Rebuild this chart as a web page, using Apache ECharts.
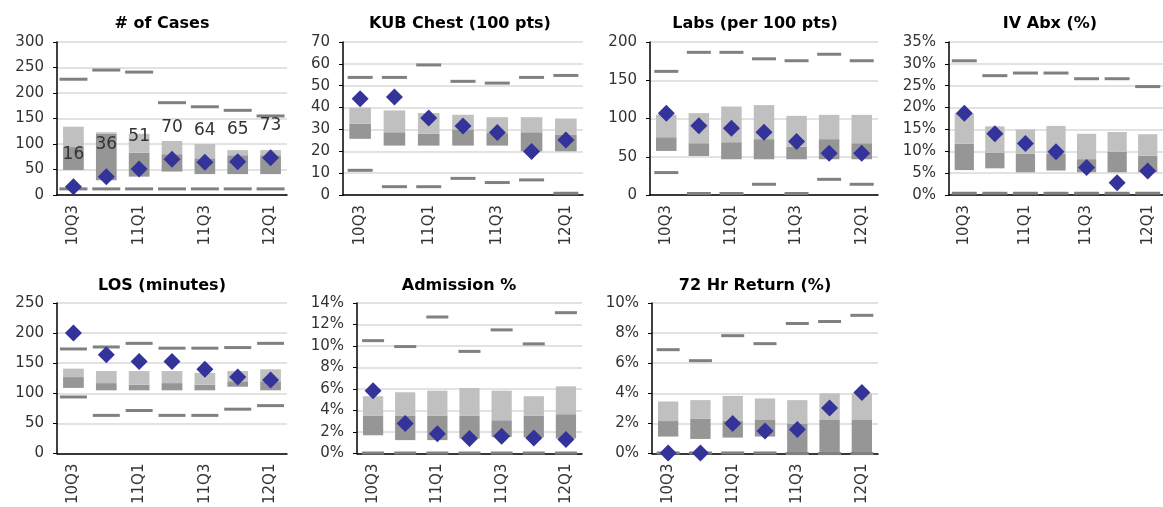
<!DOCTYPE html>
<html>
<head>
    <meta charset="utf-8">
    <title>ED quarterly metrics</title>
    <script src="https://cdn.jsdelivr.net/npm/echarts@6/dist/echarts.min.js"></script>
    <style>
        html, body { margin: 0; padding: 0; background: #fff; }
        #main { width: 1163px; height: 507px; }
    </style>
</head>
<body>
<div id="main"></div>
<script type="text/javascript">
    // quarters on every x axis
    var quarters = ['10Q3', '10Q4', '11Q1', '11Q2', '11Q3', '11Q4', '12Q1'];

    // # of Cases
    var casesQ1 = [49, 29, 36, 46, 41, 41, 41];
    var casesMed = [94, 120, 83, 80, 72, 78, 78];
    var casesQ3 = [134, 123, 120, 106, 100, 88, 88];
    var casesMax = [227, 245, 241, 181, 173, 166, 155];
    var casesMin = [12, 12, 12, 12, 12, 12, 12];
    var casesVal = [16, 36, 51, 70, 64, 65, 73];

    // KUB Chest (100 pts)
    var kubQ1 = [25.7, 22.6, 22.6, 22.6, 22.6, 20, 20];
    var kubMed = [32.6, 28.7, 28, 30, 28.3, 28.7, 27.5];
    var kubQ3 = [40, 38.7, 37.5, 36.7, 35.6, 35.6, 35];
    var kubMax = [53.8, 53.8, 59.5, 52, 51.2, 53.8, 54.7];
    var kubMin = [11.3, 3.8, 3.8, 7.6, 5.7, 6.9, 0.8];
    var kubVal = [44, 44.8, 35.2, 31.6, 28.6, 19.9, 25.2];

    // Labs (per 100 pts)
    var labsQ1 = [57.6, 51, 46.7, 46.7, 46.7, 46.7, 46.7];
    var labsMed = [75.5, 67.7, 69, 73, 63, 73, 67.7];
    var labsQ3 = [105, 107, 115.7, 117.5, 103.5, 104.8, 104.8];
    var labsMax = [161.6, 186.5, 186.5, 178, 175.5, 184, 175.5];
    var labsMin = [29.3, 2, 2, 14, 2, 20.5, 14];
    var labsVal = [107, 90.4, 87.3, 82, 70, 54.6, 54.6];

    // IV Abx (%)
    var abxQ1 = [5.7, 6.1, 5.2, 5.6, 5.2, 5.2, 5.2];
    var abxMed = [11.7, 9.7, 9.4, 9.5, 8.2, 9.9, 9];
    var abxQ3 = [18.7, 15.7, 15, 15.8, 14, 14.4, 13.9];
    var abxMax = [30.7, 27.3, 27.9, 27.9, 26.6, 26.6, 24.8];
    var abxMin = [0.4, 0.4, 0.4, 0.4, 0.4, 0.4, 0.4];
    var abxVal = [18.7, 14, 11.8, 9.9, 6.3, 2.8, 5.5];

    // LOS (minutes)
    var losQ1 = [109, 105, 105, 105, 105, 111, 105];
    var losMed = [127, 117, 114.5, 117, 114.5, 120, 120];
    var losQ3 = [141, 137, 137, 137, 134, 137, 140];
    var losMax = [173.7, 177, 183, 175, 175, 176, 183];
    var losMin = [94, 63.4, 71.5, 63.4, 63.4, 73.7, 79.6];
    var losVal = [200, 164, 153, 153, 140, 127, 122];

    // Admission %
    var admQ1 = [1.7, 1.25, 1.25, 1.4, 1.55, 1.5, 1.4];
    var admMed = [3.5, 3.5, 3.5, 3.5, 3.1, 3.5, 3.66];
    var admQ3 = [5.33, 5.7, 5.85, 6.1, 5.85, 5.33, 6.25];
    var admMax = [10.5, 9.95, 12.7, 9.5, 11.5, 10.2, 13.1];
    var admMin = [0.05, 0.05, 0.05, 0.05, 0.05, 0.05, 0.05];
    var admVal = [5.85, 2.8, 1.85, 1.4, 1.6, 1.45, 1.3];

    // 72 Hr Return (%)
    var retQ1 = [1.13, 0.97, 1.06, 1.13, 0, 0, 0];
    var retMed = [2.16, 2.3, 2.2, 2.27, 2.0, 2.27, 2.27];
    var retQ3 = [3.46, 3.55, 3.83, 3.66, 3.55, 4.0, 4.0];
    var retMax = [6.9, 6.17, 7.83, 7.3, 8.64, 8.77, 9.18];
    var retMin = [0.04, 0.04, 0.04, 0.04, 0, 0, 0];
    var retVal = [0.04, 0.04, 2.0, 1.5, 1.6, 3.03, 4.05];

    var panels = [
        { title: '# of Cases', tx: 157, ty: 11, left: 57, top: 42, width: 230, height: 153, max: 300, step: 50, pct: false, dash: 28,
          q1: casesQ1, med: casesMed, q3: casesQ3, hi: casesMax, lo: casesMin, val: casesVal, showVal: true },
        { title: 'KUB Chest (100 pts)', tx: 455, ty: 11, left: 343, top: 42, width: 240, height: 153, max: 70, step: 10, pct: false, dash: 25,
          q1: kubQ1, med: kubMed, q3: kubQ3, hi: kubMax, lo: kubMin, val: kubVal },
        { title: 'Labs (per 100 pts)', tx: 750, ty: 11, left: 650, top: 42, width: 228, height: 153, max: 200, step: 50, pct: false, dash: 24,
          q1: labsQ1, med: labsMed, q3: labsQ3, hi: labsMax, lo: labsMin, val: labsVal },
        { title: 'IV Abx (%)', tx: 1045, ty: 11, left: 949, top: 42, width: 228, height: 153, max: 35, step: 5, pct: true, dash: 25,
          q1: abxQ1, med: abxMed, q3: abxQ3, hi: abxMax, lo: abxMin, val: abxVal },
        { title: 'LOS (minutes)', tx: 157, ty: 273, left: 57, top: 303, width: 230, height: 155, max: 250, step: 50, pct: false, dash: 27,
          q1: losQ1, med: losMed, q3: losQ3, hi: losMax, lo: losMin, val: losVal },
        { title: 'Admission %', tx: 454, ty: 273, left: 357, top: 303, width: 225, height: 154, max: 14, step: 2, pct: true, dash: 22,
          q1: admQ1, med: admMed, q3: admQ3, hi: admMax, lo: admMin, val: admVal },
        { title: '72 Hr Return (%)', tx: 750, ty: 273, left: 652, top: 303, width: 226, height: 154, max: 10, step: 2, pct: true, dash: 23,
          q1: retQ1, med: retMed, q3: retQ3, hi: retMax, lo: retMin, val: retVal }
    ];

    var font = 'DejaVu Sans';
    var option = {
        animation: false,
        backgroundColor: '#fff',
        title: [], grid: [], xAxis: [], yAxis: [], series: []
    };

    panels.forEach(function (p, i) {
        option.title.push({
            text: p.title, left: p.tx, top: p.ty, textAlign: 'center',
            textStyle: { fontFamily: font, fontSize: 16, fontWeight: 'bold', color: '#000' }
        });
        option.grid.push({ left: p.left, top: p.top, width: p.width, height: p.height });
        option.xAxis.push({
            type: 'category', gridIndex: i, data: quarters,
            axisLine: { lineStyle: { color: '#000', width: 1.5 } },
            axisTick: { interval: 0, length: 5, lineStyle: { color: '#000' } },
            axisLabel: { interval: 1, rotate: 90, margin: 10, fontFamily: font, fontSize: 15, color: '#333' },
            splitLine: { show: false }
        });
        option.yAxis.push({
            type: 'value', gridIndex: i, min: 0, max: p.max, interval: p.step,
            axisLine: { show: true, lineStyle: { color: '#000', width: 1.5 } },
            axisTick: { show: true, length: 4, lineStyle: { color: '#000' } },
            axisLabel: {
                margin: 13, fontFamily: font, fontSize: 15, color: '#333',
                formatter: p.pct ? '{value}%' : '{value}'
            },
            splitLine: { lineStyle: { color: '#d9d9d9', width: 1.5 } }
        });

        // invisible base, then Q1->median (dark) and median->Q3 (light)
        var lower = p.med.map(function (v, k) { return +(v - p.q1[k]).toFixed(3); });
        var upper = p.q3.map(function (v, k) { return +(v - p.med[k]).toFixed(3); });
        var bar = { type: 'bar', xAxisIndex: i, yAxisIndex: i, stack: 'box' + i, barWidth: '63%', silent: true };
        option.series.push(Object.assign({}, bar, { data: p.q1, itemStyle: { color: 'rgba(0,0,0,0)' } }));
        option.series.push(Object.assign({}, bar, { data: lower, itemStyle: { color: '#969696' } }));
        option.series.push(Object.assign({}, bar, { data: upper, itemStyle: { color: '#c0c0c0' } }));

        // high / low dashes
        [p.hi, p.lo].forEach(function (arr) {
            option.series.push({
                type: 'scatter', xAxisIndex: i, yAxisIndex: i, data: arr, silent: true,
                symbol: 'rect', symbolSize: [p.dash, 3], itemStyle: { color: '#808080', opacity: 1 }, z: 3
            });
        });

        // diamond marker
        option.series.push({
            type: 'scatter', xAxisIndex: i, yAxisIndex: i, data: p.val, silent: true,
            symbol: 'diamond', symbolSize: [17, 17], itemStyle: { color: '#333399', opacity: 1 }, z: 4,
            label: {
                show: !!p.showVal, position: 'inside', offset: [0, -32],
                fontFamily: font, fontSize: 17, color: '#333'
            }
        });
    });

    var myChart = echarts.init(document.getElementById('main'));
    myChart.setOption(option);
</script>
</body>
</html>
